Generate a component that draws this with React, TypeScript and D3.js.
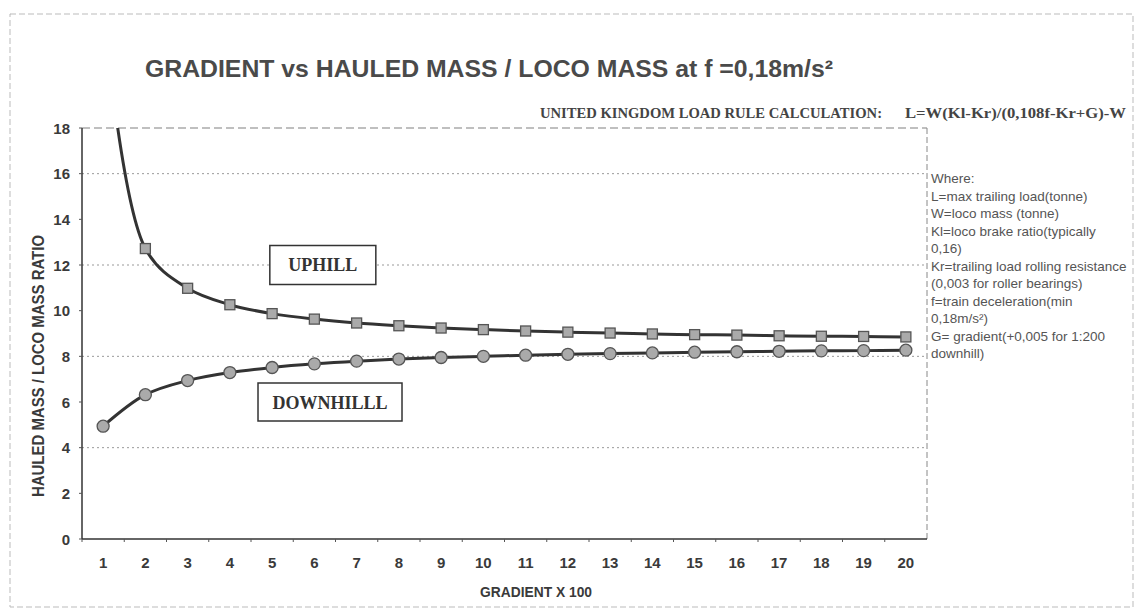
import * as React from "react";
import * as d3 from "d3";

// gradient x 100
const gradients = [1, 2, 3, 4, 5, 6, 7, 8, 9, 10, 11, 12, 13, 14, 15, 16, 17, 18, 19, 20];
const uphill = [23.38, 12.72, 10.98, 10.26, 9.87, 9.63, 9.46, 9.34, 9.24, 9.17, 9.11, 9.06, 9.02, 8.98, 8.95, 8.93, 8.9, 8.88, 8.87, 8.85];
const downhill = [4.94, 6.32, 6.94, 7.29, 7.51, 7.67, 7.79, 7.88, 7.95, 8.0, 8.05, 8.09, 8.12, 8.15, 8.18, 8.2, 8.22, 8.24, 8.25, 8.27];
const yTicks = [0, 2, 4, 6, 8, 10, 12, 14, 16, 18];
const gridTicks = [4, 8, 12, 16];
const notes = [
  "Where:",
  "L=max trailing load(tonne)",
  "W=loco mass (tonne)",
  "Kl=loco brake ratio(typically",
  "0,16)",
  "Kr=trailing load rolling resistance",
  "(0,003 for roller bearings)",
  "f=train deceleration(min",
  "0,18m/s²)",
  "G= gradient(+0,005 for 1:200",
  "downhill)",
];

const W = 1139;
const H = 615;
const plot = { left: 82, right: 927, top: 128, bottom: 539 };

const App = () => {
  const x = d3
    .scaleBand()
    .domain(gradients.map((g) => String(g)))
    .range([plot.left, plot.right]);
  const xc = (g: number) => (x(String(g)) as number) + x.bandwidth() / 2;
  // continuous position along the category axis, for the annotation boxes
  const xl = d3.scaleLinear().domain([1, 20]).range([xc(1), xc(20)]);
  const y = d3.scaleLinear().domain([0, 18]).range([plot.bottom, plot.top]);

  const line = d3
    .line<number>()
    .x((d, i) => xc(gradients[i]))
    .y((d) => y(d))
    .curve(d3.curveCatmullRom.alpha(0.5));

  const sans = "Liberation Sans, Arial, sans-serif";
  const serif = "Liberation Serif, Times New Roman, serif";

  return (
    <svg
      width={W}
      height={H}
      style={{ position: "absolute", left: 0, top: 0, background: "#fff" }}
    >
      <defs>
        <clipPath id="plotclip">
          <rect x={plot.left} y={plot.top} width={plot.right - plot.left} height={plot.bottom - plot.top} />
        </clipPath>
      </defs>
      {/* outer frame */}
      <rect x={10} y={14} width={1123} height={593} fill="none" stroke="#bbb" strokeWidth={1} strokeDasharray="6,3" />

      <text
        x={145}
        y={77}
        fontFamily={sans}
        fontWeight="bold"
        fontSize={24}
        fill="#4a4a4a"
        textLength={688}
        lengthAdjust="spacingAndGlyphs"
      >
        GRADIENT vs HAULED MASS / LOCO MASS at  f =0,18m/s²
      </text>
      <text x={540} y={118} fontFamily={serif} fontWeight="bold" fontSize={14} fill="#444" textLength={342} lengthAdjust="spacingAndGlyphs">
        UNITED KINGDOM LOAD RULE CALCULATION:
      </text>
      <text x={905} y={118} fontFamily={serif} fontWeight="bold" fontSize={14} fill="#444" textLength={221} lengthAdjust="spacingAndGlyphs">
        L=W(Kl-Kr)/(0,108f-Kr+G)-W
      </text>

      {/* grid */}
      {gridTicks.map((t) => (
        <line key={t} x1={plot.left} x2={plot.right} y1={y(t)} y2={y(t)} stroke="#999" strokeWidth={1} strokeDasharray="2,3" />
      ))}
      <line x1={plot.left} x2={plot.right} y1={plot.top} y2={plot.top} stroke="#aaa" strokeWidth={1.5} strokeDasharray="8,4" />
      <line x1={plot.right} x2={plot.right} y1={plot.top} y2={plot.bottom} stroke="#888" strokeWidth={1} strokeDasharray="6,3" />

      {/* axes */}
      <line x1={plot.left} x2={plot.left} y1={plot.top} y2={plot.bottom} stroke="#333" strokeWidth={1.5} />
      <line x1={plot.left} x2={plot.right} y1={plot.bottom} y2={plot.bottom} stroke="#333" strokeWidth={1.5} />
      {gradients.map((g) => (
        <line key={"t" + g} x1={x(String(g)) as number} x2={x(String(g)) as number} y1={plot.bottom} y2={plot.bottom + 3} stroke="#555" />
      ))}
      {yTicks.map((t) => (
        <g key={"y" + t}>
          <line x1={plot.left - 3} x2={plot.left} y1={y(t)} y2={y(t)} stroke="#555" />
          <text x={70} y={y(t) + 5.5} textAnchor="end" fontFamily={sans} fontWeight="bold" fontSize={15} fill="#3a3a3a">
            {t}
          </text>
        </g>
      ))}
      {gradients.map((g) => (
        <text key={"x" + g} x={xc(g)} y={568} textAnchor="middle" fontFamily={sans} fontWeight="bold" fontSize={15} fill="#3a3a3a">
          {g}
        </text>
      ))}
      <text x={536} y={597} textAnchor="middle" fontFamily={sans} fontWeight="bold" fontSize={14} fill="#3a3a3a" textLength={112} lengthAdjust="spacingAndGlyphs">
        GRADIENT X 100
      </text>
      <text
        transform="translate(43.5,366) rotate(-90)"
        textAnchor="middle"
        fontFamily={sans}
        fontWeight="bold"
        fontSize={16}
        fill="#3a3a3a"
        textLength={262}
        lengthAdjust="spacingAndGlyphs"
      >
        HAULED MASS / LOCO MASS RATIO
      </text>

      {/* series */}
      <g clipPath="url(#plotclip)">
        <path d={line(uphill) as string} fill="none" stroke="#333" strokeWidth={3} />
        <path d={line(downhill) as string} fill="none" stroke="#333" strokeWidth={3} />
        {uphill.map((v, i) => (
          <rect key={"u" + i} x={xc(gradients[i]) - 5} y={y(v) - 5} width={10} height={10} fill="#aaa" stroke="#555" strokeWidth={1.3} />
        ))}
        {downhill.map((v, i) => (
          <circle key={"d" + i} cx={xc(gradients[i])} cy={y(v)} r={6} fill="#aaa" stroke="#555" strokeWidth={1.3} />
        ))}
      </g>

      {/* labels */}
      <rect x={xl(6.2) - 53} y={y(12) - 19.5} width={106} height={39} fill="#fff" stroke="#333" strokeWidth={1.5} />
      <text x={xl(6.2)} y={y(12) + 6} textAnchor="middle" fontFamily={serif} fontWeight="bold" fontSize={18} fill="#333">
        UPHILL
      </text>
      <rect x={xl(6.37) - 72} y={y(6) - 19} width={144} height={38} fill="#fff" stroke="#333" strokeWidth={1.5} />
      <text x={xl(6.37)} y={y(6) + 6.5} textAnchor="middle" fontFamily={serif} fontWeight="bold" fontSize={18} fill="#333">
        DOWNHILLL
      </text>

      {/* notes */}
      {notes.map((n, i) => (
        <text key={"n" + i} x={931} y={183 + i * 17.5} fontFamily={sans} fontSize={13.5} fill="#555">
          {n}
        </text>
      ))}
    </svg>
  );
};

export default App;
